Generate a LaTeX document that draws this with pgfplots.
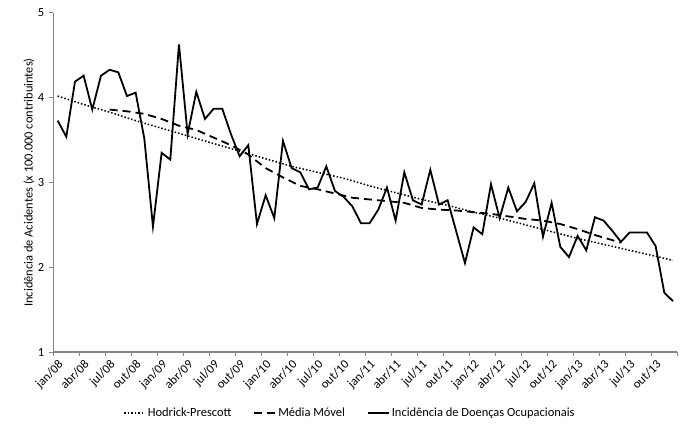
\documentclass[border=0pt]{standalone}
\usepackage{fontspec}
\setmainfont{Carlito}
\usepackage{pgfplots}
\pgfplotsset{compat=1.18}
\usepackage{pgfplotstable}

\definecolor{axisgray}{RGB}{134,134,134}

% monthly series, jan/08 = 0
\pgfplotstableread{
i val
0 3.73
1 3.54
2 4.19
3 4.26
4 3.86
5 4.26
6 4.33
7 4.30
8 4.02
9 4.06
10 3.52
11 2.48
12 3.35
13 3.27
14 4.63
15 3.57
16 4.07
17 3.75
18 3.87
19 3.87
20 3.57
21 3.31
22 3.44
23 2.51
24 2.85
25 2.58
26 3.49
27 3.17
28 3.12
29 2.92
30 2.94
31 3.19
32 2.90
33 2.83
34 2.72
35 2.52
36 2.52
37 2.68
38 2.94
39 2.55
40 3.12
41 2.79
42 2.74
43 3.15
44 2.74
45 2.79
46 2.42
47 2.05
48 2.47
49 2.39
50 2.98
51 2.58
52 2.94
53 2.66
54 2.77
55 2.99
56 2.36
57 2.76
58 2.24
59 2.12
60 2.37
61 2.20
62 2.59
63 2.55
64 2.43
65 2.30
66 2.41
67 2.41
68 2.41
69 2.25
70 1.70
71 1.60
}\incidencia

\pgfplotstableread{
i val
6 3.86
8 3.84
10 3.81
12 3.75
14 3.67
16 3.62
18 3.53
20 3.44
22 3.33
24 3.17
26 3.06
28 2.96
30 2.92
32 2.87
34 2.82
36 2.80
38 2.78
40 2.76
42 2.70
44 2.68
46 2.67
48 2.65
50 2.63
52 2.60
54 2.57
56 2.55
58 2.51
60 2.45
62 2.38
64 2.32
65 2.29
}\mediamovel

\pgfplotstableread{
i val
0 4.02
3 3.92
6 3.83
9 3.73
12 3.64
15 3.55
18 3.46
21 3.37
24 3.28
27 3.19
30 3.12
33 3.05
36 2.96
39 2.88
42 2.80
45 2.73
48 2.65
51 2.58
54 2.50
57 2.42
60 2.34
63 2.27
66 2.20
69 2.13
71 2.08
}\hodrick

\begin{document}
\fontsize{12.5}{15}\selectfont
\begin{tikzpicture}
\useasboundingbox (-53.3bp,-72bp) rectangle (632.7bp,352bp);
\begin{axis}[
    at={(0,0)}, anchor=south west,
    scale only axis,
    width=624bp, height=339bp,
    xmin=-0.5, xmax=71.5,
    ymin=1, ymax=5,
    ytick={1,2,3,4,5},
    xtick={-0.5,2.5,...,68.5},
    xticklabels={jan/08,abr/08,jul/08,out/08,jan/09,abr/09,jul/09,out/09,
        jan/10,abr/10,jul/10,out/10,jan/11,abr/11,jul/11,out/11,
        jan/12,abr/12,jul/12,out/12,jan/13,abr/13,jul/13,out/13},
    extra x ticks={71.5},
    extra x tick labels={},
    axis lines*=left,
    axis line style={axisgray, line width=1.2bp},
    tick style={axisgray, line width=1bp},
    tick align=outside,
    major tick length=4bp,
    tick pos=left,
    font=\fontsize{12.5}{15}\selectfont,
    /pgf/number format/assume math mode=true,
    xticklabel style={xshift=4.3bp, rotate=45, anchor=north east, inner sep=2bp},
    yticklabel style={inner sep=2bp, xshift=-3bp},
    ylabel={Incidência de Acidentes (x 100.000 contribuintes)},
    every axis y label/.style={at={(axis description cs:-0.039,0.5)}, rotate=90, anchor=center},
    legend columns=3,
    legend style={draw=none, fill=none, at={(axis description cs:0.4755,-0.18)}, anchor=center,
        font=\fontsize{12.5}{15}\selectfont,
        /tikz/every even column/.append style={column sep=20bp}},
    legend image code/.code={\draw[#1] (0bp,0bp) -- (21bp,0bp);},
]
\addplot[black, line width=1.5bp, dash pattern=on 1.5bp off 2bp] table[x=i, y=val] {\hodrick};
\addlegendentry{Hodrick-Prescott}
\addplot[black, line width=1.8bp, dash pattern=on 8bp off 5bp] table[x=i, y=val] {\mediamovel};
\addlegendentry{Média Móvel}
\addplot[black, line width=1.8bp] table[x=i, y=val] {\incidencia};
\addlegendentry{Incidência de Doenças Ocupacionais}
\end{axis}
\end{tikzpicture}
\end{document}
